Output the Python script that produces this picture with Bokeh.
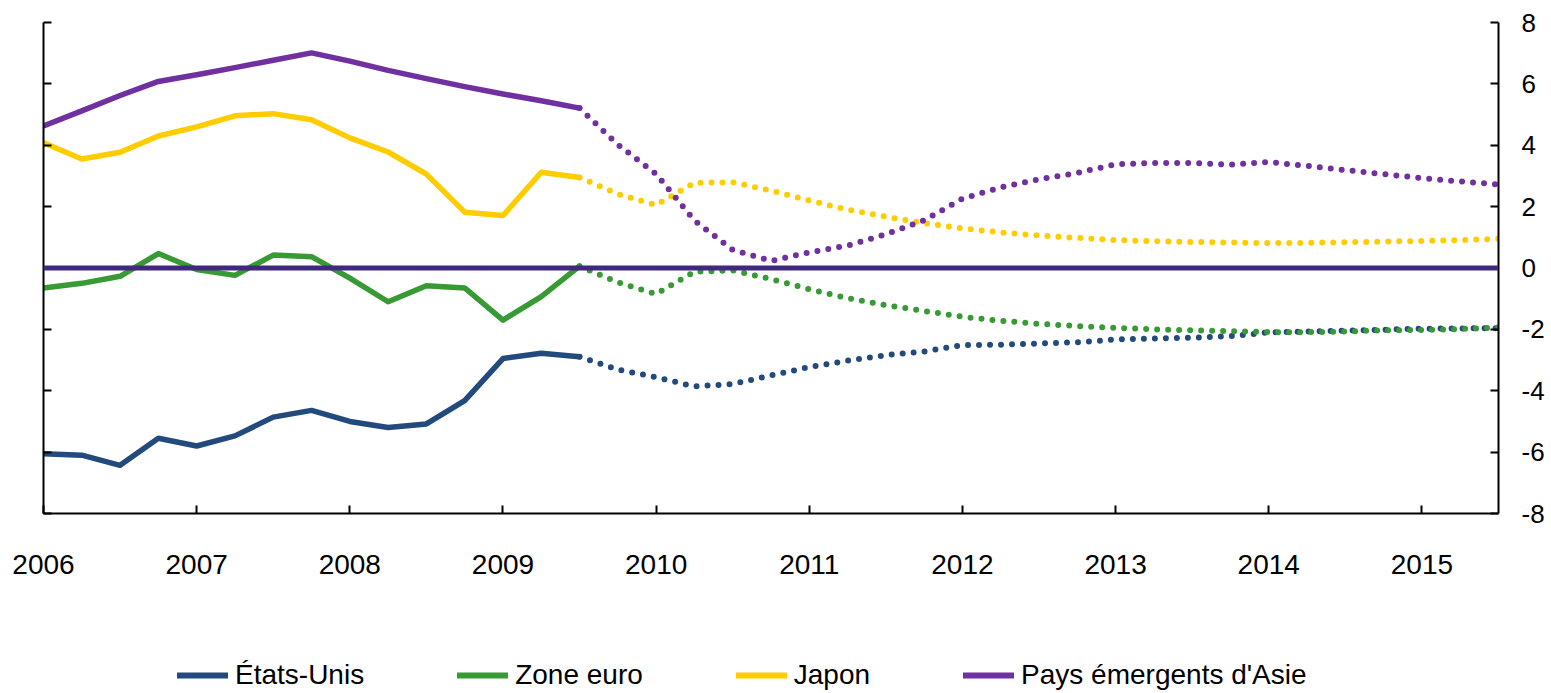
from bokeh.plotting import figure
from bokeh.layouts import column
from bokeh.models import (LinearAxis, Range1d, Span, Legend, LegendItem,
                          FixedTicker, CustomJSTickFormatter)
from bokeh.embed import file_html
from bokeh.resources import INLINE

# ---------------- data ----------------
quarters_hist = [2006.0, 2006.25, 2006.5, 2006.75, 2007.0, 2007.25, 2007.5, 2007.75,
                 2008.0, 2008.25, 2008.5, 2008.75, 2009.0, 2009.25, 2009.5]
quarters_proj = [2009.5, 2009.75, 2010.0, 2010.25, 2010.5, 2010.75, 2011.0, 2011.25,
                 2011.5, 2011.75, 2012.0, 2012.25, 2012.5, 2012.75, 2013.0, 2013.25,
                 2013.5, 2013.75, 2014.0, 2014.25, 2014.5, 2014.75, 2015.0, 2015.25, 2015.5]

us_hist = [-6.05, -6.1, -6.43, -5.55, -5.8, -5.47, -4.86, -4.64, -5.0, -5.2, -5.08,
           -4.32, -2.95, -2.78, -2.89]
euro_hist = [-0.65, -0.5, -0.27, 0.47, -0.05, -0.24, 0.42, 0.37, -0.33, -1.1, -0.58,
             -0.65, -1.7, -0.93, 0.06]
japan_hist = [4.08, 3.55, 3.77, 4.3, 4.6, 4.96, 5.03, 4.83, 4.24, 3.78, 3.06, 1.82,
              1.71, 3.12, 2.95]
asia_hist = [4.63, 5.12, 5.62, 6.08, 6.3, 6.53, 6.77, 7.01, 6.74, 6.44, 6.17, 5.91,
             5.67, 5.45, 5.21]

us_proj = [-2.89, -3.31, -3.56, -3.86, -3.78, -3.5, -3.23, -3.02, -2.84, -2.72, -2.51,
           -2.5, -2.46, -2.42, -2.33, -2.3, -2.27, -2.22, -2.1, -2.07, -2.04, -2.01,
           -1.98, -1.97, -1.96]
euro_proj = [0.06, -0.47, -0.85, -0.12, -0.08, -0.36, -0.69, -0.98, -1.21, -1.4, -1.59,
             -1.72, -1.82, -1.89, -1.95, -2.0, -2.03, -2.06, -2.09, -2.09, -2.07, -2.03,
             -2.02, -1.99, -1.94]
japan_proj = [2.95, 2.41, 2.05, 2.78, 2.79, 2.52, 2.2, 1.9, 1.67, 1.46, 1.29, 1.16, 1.06,
              0.98, 0.91, 0.87, 0.85, 0.83, 0.81, 0.82, 0.84, 0.86, 0.88, 0.91, 0.95]
asia_proj = [5.21, 4.02, 3.06, 1.55, 0.59, 0.23, 0.51, 0.73, 1.1, 1.55, 2.26, 2.63, 2.89,
             3.1, 3.38, 3.42, 3.42, 3.37, 3.45, 3.33, 3.19, 3.06, 2.93, 2.82, 2.72]

series_names = ["États-Unis", "Zone euro", "Japon", "Pays émergents d'Asie"]
series_colors = ["#234a7d", "#379a35", "#ffcc00", "#7030a0"]
year_ticks = [2006, 2007, 2008, 2009, 2010, 2011, 2012, 2013, 2014, 2015]
value_ticks = [-8, -6, -4, -2, 0, 2, 4, 6, 8]

FONT = "Liberation Sans"

# ---------------- main figure ----------------
p = figure(width=1551, height=640,
           x_range=Range1d(2006, 2015.5), y_range=Range1d(-8, 8),
           output_backend="svg", toolbar_location=None,
           min_border_left=43, min_border_right=53,
           min_border_top=22, min_border_bottom=127)
p.grid.visible = False
p.outline_line_color = None

hist = [us_hist, euro_hist, japan_hist, asia_hist]
proj = [us_proj, euro_proj, japan_proj, asia_proj]

for vals, pvals, col in zip(hist, proj, series_colors):
    p.line(quarters_hist, vals, line_color=col, line_width=5.5,
           line_join="round", line_cap="round")
    p.line(quarters_proj, pvals, line_color=col, line_width=6,
           line_dash="0 11", line_cap="round")

p.add_layout(Span(location=0, dimension="width", line_color="#41287f", line_width=5))

# x axis
xa = p.xaxis[0]
xa.ticker = FixedTicker(ticks=year_ticks)
xa.formatter = CustomJSTickFormatter(code="return String(tick)")
xa.minor_tick_line_color = None
xa.major_tick_in = 8
xa.major_tick_out = 0
xa.axis_line_width = 2
xa.major_tick_line_width = 2
xa.axis_line_color = "black"
xa.major_tick_line_color = "black"
xa.major_label_text_font = FONT
xa.major_label_text_font_size = "28px"
xa.major_label_text_color = "black"
xa.major_label_standoff = 41

# left y axis (ticks only)
ya = p.yaxis[0]
ya.ticker = FixedTicker(ticks=value_ticks)
ya.formatter = CustomJSTickFormatter(code="return ''")
ya.minor_tick_line_color = None
ya.major_tick_in = 8
ya.major_tick_out = 0
ya.axis_line_width = 2
ya.major_tick_line_width = 2
ya.axis_line_color = "black"
ya.major_tick_line_color = "black"

# right y axis
ra = LinearAxis(ticker=FixedTicker(ticks=value_ticks),
                formatter=CustomJSTickFormatter(code="return String(tick)"))
ra.minor_tick_line_color = None
ra.major_tick_in = 8
ra.major_tick_out = 0
ra.axis_line_width = 2
ra.major_tick_line_width = 2
ra.axis_line_color = "black"
ra.major_tick_line_color = "black"
ra.major_label_text_font = FONT
ra.major_label_text_font_size = "26px"
ra.major_label_text_color = "black"
ra.major_label_standoff = 23
p.add_layout(ra, "right")

# ---------------- legend strip ----------------
lg = figure(width=1551, height=53, output_backend="svg", toolbar_location=None,
            x_axis_location=None, y_axis_location=None,
            min_border_left=43, min_border_right=53, min_border_top=0, min_border_bottom=0,
            x_range=Range1d(0, 1), y_range=Range1d(0, 1))
lg.grid.visible = False
lg.outline_line_color = None

# series lines drawn outside this strip's view: they only supply legend glyphs
leg_renderers = [lg.line(quarters_hist, vals, line_color=c, line_width=6, line_cap="round")
                 for vals, c in zip(hist, series_colors)]
legend = Legend(
    items=[LegendItem(label=n, renderers=[r]) for n, r in zip(series_names, leg_renderers)],
    orientation="horizontal", location=(134, 2),
    glyph_width=51, glyph_height=20, label_standoff=7, spacing=93,
    padding=0, margin=0, border_line_color=None, background_fill_alpha=0,
    label_text_font=FONT, label_text_font_size="28px", label_text_color="black")
lg.add_layout(legend)

layout = column(p, lg, spacing=0)
open("out.html", "w").write(file_html(layout, INLINE))
